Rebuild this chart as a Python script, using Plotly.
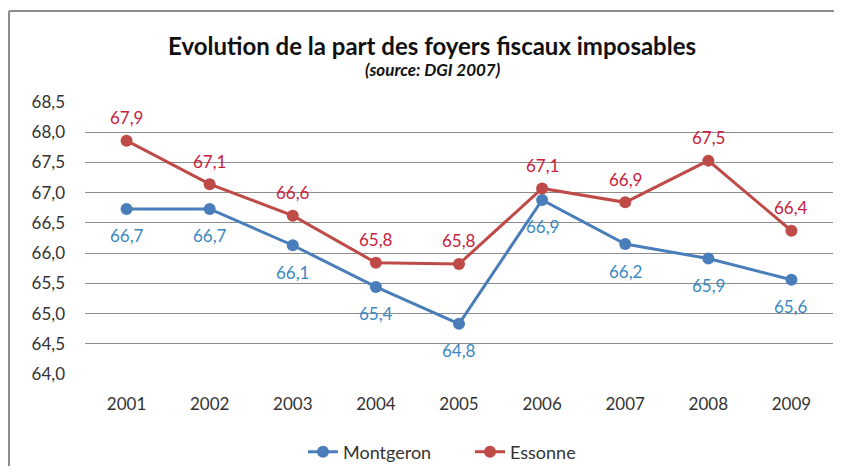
import plotly.graph_objects as go

years = ["2001", "2002", "2003", "2004", "2005", "2006", "2007", "2008", "2009"]
montgeron = [66.73, 66.73, 66.13, 65.44, 64.83, 66.88, 66.15, 65.91, 65.56]
montgeron_labels = ["66,7", "66,7", "66,1", "65,4", "64,8", "66,9", "66,2", "65,9", "65,6"]
essonne = [67.86, 67.14, 66.62, 65.84, 65.82, 67.07, 66.84, 67.53, 66.37]
essonne_labels = ["67,9", "67,1", "66,6", "65,8", "65,8", "67,1", "66,9", "67,5", "66,4"]
y_ticks = [64.0, 64.5, 65.0, 65.5, 66.0, 66.5, 67.0, 67.5, 68.0, 68.5]
y_tick_labels = ["64,0", "64,5", "65,0", "65,5", "66,0", "66,5", "67,0", "67,5", "68,0", "68,5"]

FONT = "Lato, 'Open Sans', sans-serif"
BLUE = "#4A7EBB"
RED = "#BE4B48"
BLUE_TXT = "#3A88C2"
RED_TXT = "#C8203C"

# page body adds an 8px margin: figure is sized to fit inside the window
W, H = 826, 458
PL, PR, PT, PB = 85, 833, 102, 374   # plot area in window pixels
PW, PH = PR - PL, PB - PT


def px(X):
    return (X - PL) / PW


def py(Y):
    return (PB - Y) / PH


fig = go.Figure()
fig.add_trace(go.Scatter(
    x=years, y=montgeron, name="Montgeron", mode="lines+markers",
    line=dict(color=BLUE, width=3), marker=dict(size=12, color=BLUE),
    cliponaxis=False,
))
fig.add_trace(go.Scatter(
    x=years, y=essonne, name="Essonne", mode="lines+markers",
    line=dict(color=RED, width=3), marker=dict(size=12, color=RED),
    cliponaxis=False,
))

annotations = []
for i, (yv, t) in enumerate(zip(montgeron, montgeron_labels)):
    annotations.append(dict(x=i, y=yv, xref="x", yref="y", text=t, showarrow=False, yshift=-27,
                            font=dict(size=17, color=BLUE_TXT, family=FONT)))
for i, (yv, t) in enumerate(zip(essonne, essonne_labels)):
    annotations.append(dict(x=i, y=yv, xref="x", yref="y", text=t, showarrow=False, yshift=23,
                            font=dict(size=17, color=RED_TXT, family=FONT)))

annotations += [
    dict(text="<b>Evolution de la part des foyers fiscaux imposables</b>",
         xref="paper", yref="paper", x=px(432), y=py(45),
         xanchor="center", yanchor="middle", showarrow=False,
         font=dict(size=24, color="#111111", family=FONT)),
    dict(text="<b><i>(source: DGI 2007)</i></b>",
         xref="paper", yref="paper", x=px(432), y=py(69),
         xanchor="center", yanchor="middle", showarrow=False,
         font=dict(size=17, color="#111111", family=FONT)),
]

fig.update_layout(
    width=W, height=H,
    margin=dict(l=PL - 8, r=W - (PR - 8), t=PT - 8, b=H - (PB - 8), autoexpand=False),
    paper_bgcolor="white", plot_bgcolor="white",
    font=dict(family=FONT, color="#404040", size=17),
    showlegend=True,
    legend=dict(orientation="h", x=px(303), xanchor="left",
                y=py(452), yanchor="middle", entrywidth=122,
                font=dict(size=18, color="#333333")),
    shapes=[
        dict(type="line", xref="paper", yref="paper",
             x0=px(9), x1=px(9), y0=py(480), y1=py(11),
             line=dict(color="#8C8C8C", width=2)),
        dict(type="line", xref="paper", yref="paper",
             x0=px(9), x1=px(842), y0=py(11), y1=py(11),
             line=dict(color="#8C8C8C", width=2)),
    ],
    annotations=annotations,
)
fig.update_xaxes(type="category", range=[-0.5, 8.5], showgrid=False, showline=False, ticks="",
                 tickfont=dict(size=17, color="#333333"), ticklabelstandoff=18,
                 automargin=False)
fig.update_yaxes(range=[64.0, 68.5], tickvals=y_ticks, ticktext=y_tick_labels,
                 showgrid=True, gridcolor="#8C8C8C", gridwidth=1.3, zeroline=False,
                 showline=False, tickfont=dict(size=17, color="#333333"), ticklabelstandoff=19,
                 automargin=False)

fig.write_html("out.html")
